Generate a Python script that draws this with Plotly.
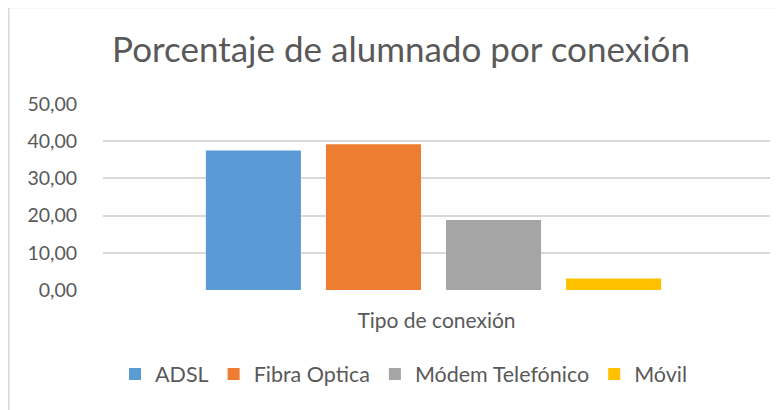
import plotly.graph_objects as go

categories = ["Tipo de conexión"]
series_names = ["ADSL", "Fibra Optica", "Módem Telefónico", "Móvil"]
series_values = [37.5, 39.15, 18.8, 3.1]
colors = ["#5b9bd5", "#ed7d31", "#a5a5a5", "#ffc000"]
y_ticks = [0, 10, 20, 30, 40, 50]

FONT = "Lato"
GREY = "#595959"

fig = go.Figure()
for name, val, col in zip(series_names, series_values, colors):
    fig.add_trace(go.Bar(x=categories, y=[val], name=name, marker=dict(color=col, line=dict(width=0))))

# page has an 8px body margin; figure origin sits at page (8, 8)
OFF = 8
W, H = 784 - OFF, 410 - OFF
L, R, T, B = 103 - OFF, 14, 104 - OFF, 120
pw, ph = W - L - R, H - T - B

def px_x(p):
    return (p - OFF - L) / pw

def px_y(p):
    return (H - B - (p - OFF)) / ph

shift = 3 / pw

fig.update_layout(
    width=W, height=H,
    margin=dict(l=L, r=R, t=T, b=B),
    paper_bgcolor="white", plot_bgcolor="white",
    separators=",.",
    barmode="group", bargap=0.28, bargroupgap=0.208,
    font=dict(family=FONT, color=GREY, size=20),
    title=dict(text="Porcentaje de alumnado por conexión", x=px_x(401), xanchor="center",
               xref="paper",
               y=1 - (50 - OFF) / H, yanchor="middle", font=dict(size=35, color=GREY, family=FONT)),
    xaxis=dict(showticklabels=False, showgrid=False, zeroline=False, showline=False,
               range=[-0.5 + shift, 0.5 + shift],
               title=dict(text="Tipo de conexión", font=dict(size=21, color=GREY), standoff=23)),
    yaxis=dict(range=[0, 50], tickvals=y_ticks, tickformat=".2f", showgrid=True,
               gridcolor="#d9d9d9", gridwidth=1.5, zeroline=False, showline=False,
               ticks="outside", ticklen=21, tickcolor="rgba(0,0,0,0)",
               tickfont=dict(size=19.5, color=GREY)),
    legend=dict(orientation="h", x=px_x(404), xanchor="center", y=px_y(374), yanchor="middle",
                font=dict(size=21.5, color=GREY), traceorder="normal", itemwidth=30),
    showlegend=True,
)

fig.add_shape(type="rect", xref="paper", yref="paper",
              x0=px_x(8.8), x1=px_x(800), y0=px_y(430), y1=px_y(7.5),
              line=dict(color="#d9d9d9", width=1.5), fillcolor="rgba(0,0,0,0)", layer="below")

fig.write_html("out.html")
